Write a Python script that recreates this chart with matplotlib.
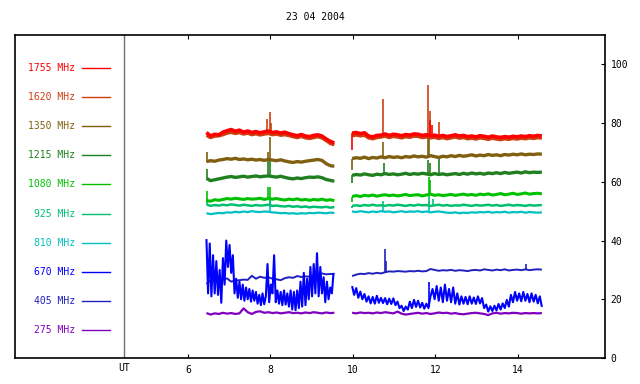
import numpy as np
import matplotlib
matplotlib.use("Agg")
import matplotlib.pyplot as plt

# channels, top to bottom in the legend
freqs = ["1755", "1620", "1350", "1215", "1080", "925", "810", "670", "405", "275"]
colors = ["#ff0000", "#cc4010", "#806010", "#208020", "#00c000",
          "#00c070", "#00c0c0", "#0000ff", "#2020c0", "#8000c0"]

# two observing blocks (hour UT of first sample, sample step in hours)
seg1_start, seg1_step = 6.45, 0.1
seg2_start, seg2_step = 9.98, 0.1

s1755_a = [76.8, 75.6, 76.2, 76.0, 76.9, 77.4, 77.8, 77.2, 77.6, 76.9, 77.3, 76.8, 77.1, 76.7, 77.0, 77.3,
           76.8, 77.0, 76.6, 76.9, 76.4, 76.0, 75.7, 76.1, 75.6, 75.4, 75.8, 76.0, 75.6, 74.6, 73.8, 73.2]
s1755_b = [76.6, 76.8, 76.4, 76.7, 75.6, 75.3, 75.8, 75.9, 76.3, 75.8, 76.2, 76.0, 75.7, 76.1, 75.9, 76.3,
           76.2, 75.8, 76.0, 75.7, 75.9, 75.5, 75.8, 75.4, 75.7, 76.0, 75.6, 75.8, 75.4, 75.6, 75.3, 75.7,
           75.5, 75.2, 75.6, 75.3, 75.1, 75.4, 75.2, 75.5, 75.3, 75.6, 75.4, 75.7, 75.5, 75.8, 75.6]
s1620_a = [75.8, 75.0, 75.5, 75.6, 76.0, 76.5, 76.8, 76.4, 76.7, 76.2, 76.5, 76.0, 76.3, 75.9, 76.2, 76.4,
           76.0, 76.2, 75.8, 76.0, 75.7, 75.3, 75.0, 75.4, 74.9, 74.7, 75.0, 75.3, 74.9, 74.0, 73.0, 72.6]
s1620_b = [75.6, 75.9, 75.6, 75.8, 74.9, 74.6, 75.0, 75.2, 75.5, 75.0, 75.4, 75.2, 74.9, 75.3, 75.1, 75.5,
           75.4, 75.0, 75.2, 74.9, 75.1, 74.7, 75.0, 74.6, 74.9, 75.2, 74.8, 75.0, 74.6, 74.8, 74.5, 74.9,
           74.7, 74.4, 74.8, 74.5, 74.3, 74.6, 74.4, 74.7, 74.5, 74.8, 74.6, 74.9, 74.7, 75.0, 74.8]
s1350_a = [66.9, 67.2, 67.0, 67.4, 67.6, 67.9, 67.7, 68.0, 67.6, 67.8, 67.5, 67.7, 67.4, 67.6, 67.3, 67.6,
           67.4, 67.2, 67.5, 67.1, 66.8, 66.6, 66.9, 66.7, 67.0, 67.2, 67.4, 67.6, 67.3, 66.2, 65.5, 65.3]
s1350_b = [67.9, 68.2, 68.0, 68.4, 67.9, 68.3, 68.1, 68.5, 68.2, 68.6, 68.3, 68.5, 68.2, 68.6, 68.4, 68.8,
           68.5, 68.7, 68.4, 68.9, 68.6, 68.3, 68.7, 68.5, 68.9, 68.6, 69.0, 68.7, 68.9, 69.2, 68.8, 69.1,
           68.9, 69.3, 69.0, 69.2, 68.9, 69.3, 69.1, 69.4, 69.2, 69.5, 69.2, 69.4, 69.3, 69.5, 69.4]
s1215_a = [61.2, 60.4, 60.7, 61.0, 61.3, 61.6, 61.8, 61.5, 61.7, 61.9, 61.6, 61.8, 62.0, 61.7, 61.9, 62.0,
           61.8, 61.6, 61.9, 61.5, 61.2, 61.0, 61.3, 61.1, 61.4, 61.6, 61.5, 61.7, 61.4, 60.8, 60.5, 60.2]
s1215_b = [62.2, 62.5, 62.3, 62.7, 62.4, 62.2, 62.6, 62.4, 62.8, 62.5, 62.7, 62.4, 62.6, 62.9, 62.5, 62.8,
           62.6, 62.9, 62.7, 62.4, 62.8, 62.5, 62.7, 62.4, 62.6, 62.8, 62.5, 62.9, 62.6, 63.0, 62.7, 62.9,
           62.6, 63.0, 62.8, 63.1, 62.8, 63.2, 62.9, 63.1, 63.3, 63.0, 63.4, 63.1, 63.3, 63.2, 63.3]
s1080_a = [53.6, 53.4, 53.9, 53.7, 54.0, 54.3, 54.1, 54.4, 54.2, 54.0, 54.3, 54.1, 54.2, 54.4, 54.0, 54.3,
           54.1, 54.3, 54.0, 53.8, 54.1, 53.9, 54.2, 53.8, 54.0, 53.7, 54.0, 53.8, 54.1, 53.7, 53.9, 53.6]
s1080_b = [55.0, 55.3, 55.0, 55.4, 55.2, 55.5, 55.1, 55.4, 55.6, 55.3, 55.5, 55.2, 55.4, 55.7, 55.3, 55.5,
           55.6, 55.2, 55.5, 55.8, 55.4, 55.6, 55.3, 55.5, 55.7, 55.4, 55.6, 55.8, 55.5, 55.7, 55.4, 55.8,
           55.6, 55.9, 55.5, 55.7, 56.0, 55.6, 55.8, 56.1, 55.7, 55.9, 56.2, 55.8, 56.0, 56.1, 55.9]
s925_a = [52.3, 51.8, 52.1, 51.9, 52.2, 52.0, 52.3, 52.1, 51.9, 52.2, 52.0, 51.8, 52.1, 51.9, 52.0, 52.2,
          51.8, 51.9, 51.7, 51.6, 51.8, 51.5, 51.7, 51.4, 51.6, 51.3, 51.5, 51.4, 51.3, 51.5, 51.2, 51.4]
s925_b = [51.8, 52.0, 51.8, 52.1, 51.9, 52.2, 51.9, 52.0, 51.8, 52.1, 51.9, 52.2, 52.0, 51.8, 52.1, 51.9,
          52.2, 52.0, 52.1, 51.8, 52.0, 52.2, 51.9, 52.1, 51.8, 52.0, 51.9, 52.2, 52.0, 51.8, 52.1, 51.9,
          52.0, 52.2, 51.9, 52.1, 51.8, 52.0, 52.2, 51.9, 52.1, 52.0, 51.8, 52.1, 51.9, 52.0, 52.1]
s810_a = [49.3, 49.0, 49.2, 49.4, 49.3, 49.6, 49.5, 49.8, 49.6, 49.9, 49.7, 50.0, 49.8, 49.7, 49.9, 49.8,
          49.6, 49.5, 49.3, 49.4, 49.2, 49.3, 49.1, 49.3, 49.2, 49.4, 49.3, 49.5, 49.4, 49.3, 49.5, 49.4]
s810_b = [49.9, 49.7, 50.0, 49.8, 49.6, 49.9, 49.7, 50.0, 49.8, 49.9, 49.6, 49.8, 50.0, 49.7, 49.9, 49.8,
          50.0, 49.7, 49.9, 49.6, 49.8, 49.9, 49.7, 49.5, 49.4, 49.6, 49.3, 49.5, 49.4, 49.6, 49.5, 49.7,
          49.6, 49.8, 49.5, 49.7, 49.6, 49.8, 49.5, 49.7, 49.6, 49.8, 49.5, 49.7, 49.6, 49.5, 49.6]
s405_a = [25.2, 26.5, 26.3, 26.6, 26.8, 27.1, 26.0, 26.4, 26.5, 26.7, 26.6, 28.0, 27.0, 27.7, 27.3, 27.5,
          27.0, 26.8, 26.5, 27.2, 27.5, 27.3, 27.9, 27.6, 27.8, 27.7, 28.0, 28.3, 28.8, 28.5, 28.6, 28.6]
s405_b = [27.9, 28.4, 28.7, 28.6, 28.9, 28.7, 29.0, 28.8, 29.2, 29.5, 29.4, 29.6, 29.5, 29.4, 29.6, 29.5,
          29.7, 29.5, 29.6, 30.3, 30.0, 29.7, 29.9, 29.8, 30.0, 29.7, 29.9, 29.8, 29.6, 29.9, 30.0, 29.8,
          30.2, 30.0, 29.8, 30.1, 29.9, 30.2, 29.8, 30.0, 30.1, 29.9, 30.2, 29.9, 30.1, 30.2, 30.1]
s275_a = [15.3, 14.8, 15.2, 15.0, 15.4, 15.1, 15.3, 15.0, 15.2, 16.9, 15.6, 15.0, 15.7, 15.9, 15.4, 15.6,
          15.3, 15.5, 15.2, 15.4, 15.6, 15.3, 15.4, 15.2, 15.5, 15.3, 15.6, 15.4, 15.2, 15.5, 15.3, 15.4]
s275_b = [15.4, 15.2, 15.5, 15.3, 15.4, 15.2, 15.5, 15.3, 15.6, 15.4, 15.2, 15.8, 15.1, 14.8, 15.0, 15.2,
          15.4, 15.1, 15.3, 15.0, 15.2, 15.5, 15.3, 15.4, 15.1, 15.3, 15.0, 14.9, 15.1, 15.3, 15.4, 15.2,
          15.0, 14.6, 15.2, 15.4, 15.1, 15.3, 15.2, 15.4, 15.3, 15.1, 15.3, 15.2, 15.3, 15.2, 15.3]

# 670 MHz is very noisy: sampled finer
s670_a_step = 0.04
s670_a = [40.5, 22.0, 39.0, 21.0, 35.0, 22.0, 33.0, 21.5, 30.0, 18.8, 34.0, 25.0, 40.0, 31.0, 38.5, 29.0,
          35.0, 22.0, 27.0, 20.5, 26.0, 20.0, 25.0, 19.5, 24.0, 20.0, 23.5, 19.2, 23.0, 19.5, 22.5, 18.5,
          21.5, 18.0, 22.0, 18.3, 21.0, 32.0, 19.0, 25.0, 22.0, 35.0, 19.0, 23.0, 18.5, 22.5, 18.0, 23.0,
          18.2, 22.0, 17.5, 23.0, 16.5, 22.5, 16.3, 23.0, 17.0, 26.0, 17.5, 29.0, 18.0, 27.0, 20.0, 31.0,
          21.0, 32.0, 22.0, 35.7, 21.0, 31.0, 22.0, 27.5, 19.0, 26.0, 20.0, 24.0, 22.0, 29.0]
s670_b_step = 0.05
s670_b = [24.5, 21.5, 23.8, 20.5, 22.6, 20.0, 21.8, 19.2, 21.0, 18.6, 20.8, 18.5, 21.2, 18.8, 20.5, 18.7,
          20.4, 18.3, 20.2, 18.4, 20.3, 18.0, 19.2, 17.0, 17.8, 16.0, 17.5, 16.5, 19.2, 17.0, 19.8, 17.4,
          19.5, 17.2, 18.8, 16.8, 18.5, 17.0, 21.0, 23.5, 20.0, 24.5, 19.5, 24.0, 19.0, 25.0, 19.5, 23.5,
          19.0, 24.0, 18.5, 22.0, 18.2, 21.0, 18.5, 20.8, 18.3, 21.0, 18.5, 20.6, 18.4, 21.0, 18.6, 20.4,
          17.0, 18.2, 15.8, 17.6, 16.0, 17.8, 16.2, 18.4, 16.5, 18.6, 17.0, 19.8, 17.5, 21.5, 19.0, 22.5,
          19.5, 22.0, 19.3, 22.5, 19.5, 21.8, 19.0, 22.0, 19.2, 21.5, 18.6, 21.0, 17.4]

# narrow spikes: (hour, level beside the spike, tip)
spikes = {
    "1755": [(9.985, 76.6, 70.7), (11.88, 76.0, 81.0), (11.92, 76.0, 79.5)],
    "1620": [(7.92, 76.0, 81.3), (7.99, 76.0, 83.8), (8.02, 76.0, 80.0),
             (10.73, 75.2, 88.3), (11.83, 75.3, 92.9), (11.87, 75.3, 84.0), (12.09, 75.0, 80.4)],
    "1350": [(6.46, 66.9, 70.2), (7.93, 67.4, 70.0), (7.99, 67.4, 75.3), (9.985, 67.9, 63.9),
             (10.74, 68.4, 73.6), (11.82, 68.5, 74.8), (11.85, 68.5, 74.5)],
    "1215": [(6.46, 61.2, 64.3), (7.93, 61.8, 67.3), (7.99, 61.8, 67.3), (9.985, 62.2, 59.5),
             (10.75, 62.5, 66.4), (11.83, 62.6, 67.3), (11.86, 62.6, 66.5), (12.09, 62.7, 67.9)],
    "1080": [(6.46, 53.6, 57.0), (7.93, 54.2, 58.3), (7.99, 54.2, 58.3), (9.985, 55.0, 53.2),
             (11.84, 55.4, 61.7), (11.87, 55.4, 60.5)],
    "925": [(6.46, 52.3, 54.0), (7.99, 51.9, 55.0), (9.985, 51.8, 51.0), (10.74, 52.0, 53.5),
            (11.85, 52.0, 55.5), (11.95, 52.0, 54.0)],
    "810": [(7.99, 49.7, 53.7), (10.74, 49.8, 51.5), (11.85, 49.8, 53.0)],
    "670": [(11.85, 17.5, 26.0)],
    "405": [(10.78, 29.4, 37.0), (10.8, 29.4, 33.0), (14.2, 30.0, 32.0)],
    "275": [],
}

series = {
    "1755": [(seg1_start, seg1_step, s1755_a), (seg2_start, seg2_step, s1755_b)],
    "1620": [(seg1_start, seg1_step, s1620_a), (seg2_start, seg2_step, s1620_b)],
    "1350": [(seg1_start, seg1_step, s1350_a), (seg2_start, seg2_step, s1350_b)],
    "1215": [(seg1_start, seg1_step, s1215_a), (seg2_start, seg2_step, s1215_b)],
    "1080": [(seg1_start, seg1_step, s1080_a), (seg2_start, seg2_step, s1080_b)],
    "925": [(seg1_start, seg1_step, s925_a), (seg2_start, seg2_step, s925_b)],
    "810": [(seg1_start, seg1_step, s810_a), (seg2_start, seg2_step, s810_b)],
    "670": [(seg1_start, s670_a_step, s670_a), (seg2_start, s670_b_step, s670_b)],
    "405": [(seg1_start, seg1_step, s405_a), (seg2_start, seg2_step, s405_b)],
    "275": [(seg1_start, seg1_step, s275_a), (seg2_start, seg2_step, s275_b)],
}
widths = {"1755": 2.6, "1620": 2.2, "1350": 2.4, "1215": 2.4, "1080": 2.2,
          "925": 1.8, "810": 1.6, "670": 1.5, "405": 1.4, "275": 1.6}

ut_line = 4.45
mono = "DejaVu Sans Mono"

fig = plt.figure(figsize=(6.4, 3.84), dpi=100)
ax = fig.add_axes([15 / 640, 1 - 358 / 384, 590 / 640, 323 / 384])
ax.set_xlim(1.81, 16.11)
ax.set_ylim(0, 110)

draw_order = ["275", "405", "670", "810", "925", "1080", "1215", "1350", "1620", "1755"]
for f in draw_order:
    c = colors[freqs.index(f)]
    for start, step, vals in series[f]:
        t = start + step * np.arange(len(vals))
        ax.plot(t, vals, color=c, lw=widths[f], solid_capstyle="butt")
    for ts, base, tip in spikes[f]:
        ax.vlines(ts, base, tip, color=c, lw=1.2)

# legend column on the left
for i, f in enumerate(freqs):
    y = 98.8 - 9.92 * i
    c = colors[i]
    ax.text(0.102, y, f"{f} MHz", color=c, fontsize=7, family=mono,
            ha="right", va="center", transform=ax.get_yaxis_transform())
    ax.plot([0.114, 0.161], [y, y], color=c, lw=1, transform=ax.get_yaxis_transform())

ax.axvline(ut_line, color="#707070", lw=1)

for s in ax.spines.values():
    s.set_linewidth(1.2)

ax.set_xticks([6, 8, 10, 12, 14])
ax.set_xticklabels(["6", "8", "10", "12", "14"], family=mono, fontsize=7)
ax.tick_params(axis="x", direction="in", length=3, top=True, pad=5)
ax.yaxis.tick_right()
ax.set_yticks([0, 20, 40, 60, 80, 100])
ax.set_yticklabels(["0", "20", "40", "60", "80", "100"], family=mono, fontsize=7)
ax.tick_params(axis="y", direction="in", length=3, left=False, pad=4)
ax.text(ut_line, -1.6, "UT", family=mono, fontsize=7, ha="center", va="top")

fig.text(0.492, 1 - 17 / 384, "23 04 2004", family=mono, fontsize=7, ha="center", va="center")

fig.savefig("out.png", dpi=100)
